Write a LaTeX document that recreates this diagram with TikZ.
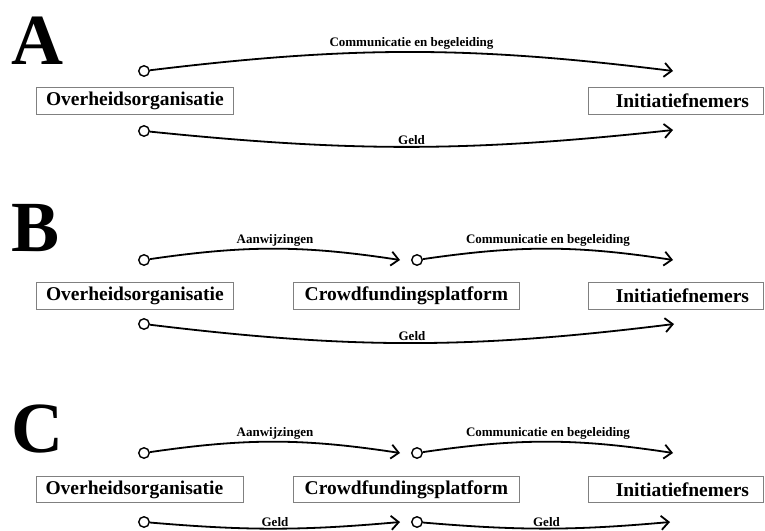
\documentclass[tikz,border=0pt]{standalone}
\usepackage{fontspec}
\setmainfont{Liberation Serif}
\usetikzlibrary{arrows.meta}
\tikzset{
    every node/.style={font=\bfseries},
    main node/.style={draw=gray,line width=0.8pt,fill=white,font=\fontsize{19.5}{20}\selectfont\bfseries,minimum height=27pt,inner sep=0pt,anchor=north west},
    port node/.style={circle,draw,line width=1.4pt,fill=white,inner sep=0pt,minimum size=10.5pt},
    flow label/.style={font=\fontsize{13}{14}\selectfont\bfseries,inner sep=1.5pt},
    panel letter/.style={font=\fontsize{72}{72}\selectfont\bfseries,inner sep=0pt,anchor=base west}
}

\begin{document}
\begin{tikzpicture}[->,>={Straight Barb[length=7.5pt,width=14pt]},x=1pt,y=1pt,line width=1.8pt]
    \useasboundingbox (0,0) rectangle (765,-530);

    % A
    \node[panel letter] (LA) at (11,-64) {A};
    \node[main node,minimum width=197pt] (A1) at (36,-87) {Overheidsorganisatie};
    \node[main node,minimum width=175pt] (A3) at (588,-87) {\hspace*{13pt}Initiatiefnemers};
    \node[port node] (pa1) at (144,-71) {};
    \node[port node] (pa2) at (144,-131) {};
    \coordinate (ea1) at (673,-71);
    \coordinate (ea2) at (673,-130);
    \draw (pa1) to[bend left=7] node[flow label,above] {Communicatie en begeleiding} (ea1);
    \draw (pa2) to[bend right=6] node[flow label,above] {Geld} (ea2);

    % B
    \node[panel letter] (LB) at (11,-251) {B};
    \node[main node,minimum width=197pt] (B1) at (36,-282) {Overheidsorganisatie};
    \node[main node,minimum width=226pt] (B2) at (293,-282) {Crowdfundingsplatform};
    \node[main node,minimum width=175pt] (B3) at (588,-282) {\hspace*{13pt}Initiatiefnemers};
    \node[port node] (pb1) at (144,-260) {};
    \node[port node] (pb2) at (417,-260) {};
    \node[port node] (pb3) at (144,-324) {};
    \coordinate (eb1) at (400,-260);
    \coordinate (eb2) at (673,-260);
    \coordinate (eb3) at (674,-324);
    \draw (pb1) to[bend left=8.5] node[flow label,above] {Aanwijzingen} (eb1);
    \draw (pb2) to[bend left=8.5] node[flow label,above] {Communicatie en begeleiding} (eb2);
    \draw (pb3) to[bend right=7] node[flow label,above] {Geld} (eb3);

    % C
    \node[panel letter] (LC) at (11,-452) {C};
    \node[main node,minimum width=207pt,minimum height=26pt] (C1) at (36,-476) {Overheidsorganisatie\hspace*{11pt}};
    \node[main node,minimum width=226pt,minimum height=26pt] (C2) at (293,-476) {Crowdfundingsplatform};
    \node[main node,minimum width=175pt,minimum height=26pt] (C3) at (588,-476) {\hspace*{13pt}Initiatiefnemers};
    \node[port node] (pc1) at (144,-453) {};
    \node[port node] (pc2) at (417,-453) {};
    \node[port node] (pc3) at (144,-522) {};
    \node[port node] (pc4) at (417,-522) {};
    \coordinate (ec1) at (400,-453);
    \coordinate (ec2) at (673,-453);
    \coordinate (ec3) at (400,-522);
    \coordinate (ec4) at (670,-522);
    \draw (pc1) to[bend left=8.5] node[flow label,above] {Aanwijzingen} (ec1);
    \draw (pc2) to[bend left=8.5] node[flow label,above] {Communicatie en begeleiding} (ec2);
    \draw (pc3) to[bend right=5] node[flow label,above] {Geld} (ec3);
    \draw (pc4) to[bend right=5] node[flow label,above] {Geld} (ec4);
\end{tikzpicture}
\end{document}
